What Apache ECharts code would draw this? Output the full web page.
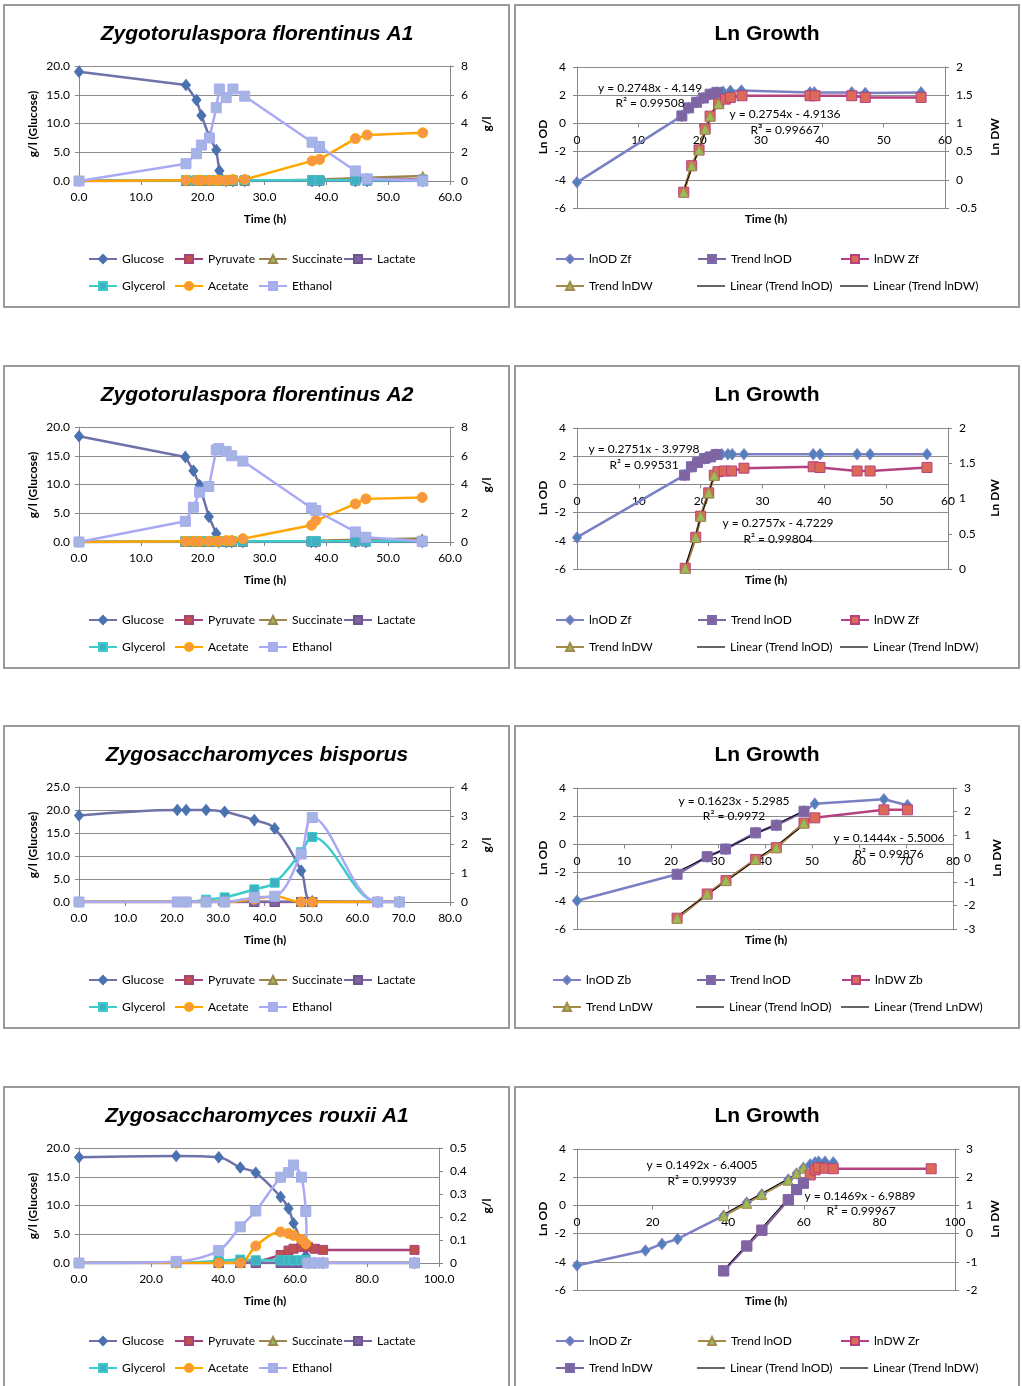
<!DOCTYPE html>
<html><head><meta charset="utf-8">
<script src="https://cdn.jsdelivr.net/npm/echarts@6/dist/echarts.min.js"></script>
<style>
html,body{margin:0;padding:0;background:#fff;width:1022px;height:1386px;overflow:hidden;}
.box{position:absolute;outline:2px solid #9a9a9a;outline-offset:-2px;}
</style></head><body>
<div id="p1" class="box" style="left:3px;top:4px;width:507px;height:304px"></div>
<div id="p2" class="box" style="left:514px;top:4px;width:506px;height:304px"></div>
<div id="p3" class="box" style="left:3px;top:365px;width:507px;height:304px"></div>
<div id="p4" class="box" style="left:514px;top:365px;width:506px;height:304px"></div>
<div id="p5" class="box" style="left:3px;top:725px;width:507px;height:304px"></div>
<div id="p6" class="box" style="left:514px;top:725px;width:506px;height:304px"></div>
<div id="p7" class="box" style="left:3px;top:1086px;width:507px;height:304px"></div>
<div id="p8" class="box" style="left:514px;top:1086px;width:506px;height:304px"></div>
<script>
// ---------- DATA: metabolite panels (time in h; glucose g/l left axis, others g/l right axis) ----------
const a1Time      = [0, 17.3, 19.0, 19.8, 21.1, 22.2, 22.7, 23.8, 24.9, 26.8, 37.7, 38.9, 44.7, 46.6, 55.6];
const a1Glucose   = [19.0, 16.7, 14.1, 11.4, 7.6, 5.4, 1.8, 0, 0, 0, 0, 0, 0, 0, 0];
const a1Pyruvate  = [0, 0.02, 0.02, 0.02, 0.02, 0.02, 0.02, 0.02, 0.02, 0.02, 0.05, 0.05, 0.08, 0.08, 0.1];
const a1Succinate = [0, 0, 0, 0, 0, 0, 0, 0, 0, 0, 0.08, 0.1, 0.2, 0.22, 0.35];
const a1Lactate   = [0, 0.03, 0.03, 0.03, 0.03, 0.03, 0.03, 0.03, 0.03, 0.03, 0.03, 0.03, 0.03, 0.03, 0.03];
const a1Glycerol  = [0, 0.05, 0.05, 0.05, 0.05, 0.05, 0.05, 0.05, 0.05, 0.05, 0.05, 0.05, 0.05, 0.05, 0.05];
const a1Acetate   = [0, 0.05, 0.05, 0.05, 0.05, 0.05, 0.05, 0.05, 0.1, 0.1, 1.4, 1.5, 2.95, 3.2, 3.35];
const a1Ethanol   = [0, 1.2, 1.9, 2.5, 3.0, 5.1, 6.4, 5.8, 6.4, 5.9, 2.7, 2.4, 0.7, 0.15, 0];

const a2Time      = [0, 17.2, 18.5, 19.5, 21.0, 22.2, 22.6, 23.8, 24.7, 26.5, 37.6, 38.3, 44.7, 46.4, 55.5];
const a2Glucose   = [18.4, 14.8, 12.4, 9.9, 4.4, 1.5, 0, 0, 0, 0, 0, 0, 0, 0, 0];
const a2Pyruvate  = [0, 0.02, 0.02, 0.02, 0.02, 0.02, 0.02, 0.02, 0.02, 0.02, 0.05, 0.05, 0.06, 0.06, 0.08];
const a2Succinate = [0, 0, 0, 0, 0, 0, 0, 0, 0, 0, 0.06, 0.08, 0.15, 0.18, 0.25];
const a2Lactate   = [0, 0.03, 0.03, 0.03, 0.03, 0.03, 0.03, 0.03, 0.03, 0.03, 0.03, 0.03, 0.03, 0.03, 0.03];
const a2Glycerol  = [0, 0.05, 0.05, 0.05, 0.05, 0.05, 0.05, 0.05, 0.05, 0.05, 0.05, 0.05, 0.05, 0.05, 0.05];
const a2Acetate   = [0, 0.05, 0.05, 0.05, 0.05, 0.05, 0.05, 0.1, 0.1, 0.23, 1.16, 1.49, 2.65, 3.0, 3.1];
const a2Ethanol   = [0, 1.44, 2.42, 3.47, 3.86, 6.4, 6.5, 6.3, 6.0, 5.63, 2.37, 2.19, 0.7, 0.33, 0.05];

const bTime       = [0, 21.2, 23.1, 27.4, 31.4, 37.8, 42.2, 47.9, 50.3, 64.4, 69.1];
const bGlucose    = [18.8, 20.0, 20.0, 20.0, 19.6, 17.8, 16.0, 6.8, 0.15, 0, 0];
const bPyruvate   = [0, 0, 0, 0, 0, 0, 0, 0, 0, 0, 0];
const bSuccinate  = [0, 0, 0, 0, 0, 0, 0, 0, 0, 0, 0];
const bLactate    = [0, 0, 0, 0, 0, 0, 0, 0, 0, 0, 0];
const bGlycerol   = [0, 0, 0, 0.08, 0.16, 0.44, 0.67, 1.73, 2.26, 0, 0];
const bAcetate    = [0, 0, 0, 0, 0, 0.1, 0.2, 0, 0, 0, 0];
const bEthanol    = [0, 0, 0, 0, 0, 0.16, 0.2, 1.67, 2.94, 0, 0];

const rTime       = [0, 27.0, 38.8, 44.8, 49.1, 56.0, 58.2, 59.6, 61.8, 63.0, 63.6, 65.5, 67.8, 93.2];
const rGlucose    = [18.4, 18.6, 18.4, 16.6, 15.7, 11.5, 9.5, 6.9, 3.8, 1.2, 0, 0, 0, 0];
const rPyruvate   = [0, 0, 0, 0, 0.005, 0.035, 0.054, 0.062, 0.069, 0.074, 0.069, 0.062, 0.057, 0.057];
const rSuccinate  = [0, 0, 0, 0, 0, 0, 0, 0, 0, 0, 0, 0, 0, 0];
const rLactate    = [0, 0, 0, 0, 0, 0, 0, 0, 0, 0, 0, 0, 0, 0];
const rGlycerol   = [0, 0, 0.01, 0.015, 0.012, 0.012, 0.012, 0.012, 0.012, 0.012, 0, 0, 0, 0];
const rAcetate    = [0, 0, 0, 0, 0.074, 0.135, 0.128, 0.12, 0.103, 0.084, 0, 0, 0, 0];
const rEthanol    = [0, 0.007, 0.054, 0.157, 0.226, 0.373, 0.393, 0.426, 0.373, 0.224, 0, 0, 0, 0];

// ---------- DATA: Ln growth panels ([time, value]) ----------
const g1OD      = [[0,-4.18],[17.1,0.53],[18.2,1.1],[19.5,1.5],[20.6,1.8],[21.7,2.07],[22.8,2.2],[23.8,2.25],[25.0,2.3],[26.8,2.33],[38.0,2.2],[38.7,2.2],[44.8,2.2],[47.0,2.15],[56.1,2.2]];
const g1TrendOD = [[17.1,0.53],[18.2,1.1],[19.5,1.5],[20.6,1.8],[21.7,2.07],[22.8,2.2]];
const g1DW      = [[17.4,-0.22],[18.7,0.25],[19.9,0.53],[20.9,0.9],[21.7,1.13],[23.1,1.35],[24.2,1.43],[25.0,1.46],[26.9,1.49],[38.0,1.49],[38.8,1.49],[44.8,1.49],[47.0,1.46],[56.1,1.46]];
const g1TrendDW = [[17.4,-0.22],[18.7,0.25],[19.9,0.53],[20.9,0.9],[21.7,1.13],[23.1,1.35]];
const g1LinOD   = [[17.1,0.55],[22.8,2.2]];
const g1LinDW   = [[17.4,-0.18],[22.8,1.39]];

const g2OD      = [[0,-3.76],[17.4,0.66],[18.5,1.25],[19.5,1.55],[20.6,1.84],[21.6,1.95],[22.5,2.12],[23.4,2.14],[24.4,2.14],[25.1,2.14],[27.0,2.14],[38.2,2.14],[39.3,2.14],[45.3,2.14],[47.4,2.14],[56.6,2.14]];
const g2TrendOD = [[17.4,0.66],[18.5,1.25],[19.5,1.55],[20.6,1.84],[21.6,1.95],[22.5,2.12]];
const g2DW      = [[17.5,0.01],[19.2,0.45],[20.0,0.75],[21.3,1.08],[22.2,1.33],[22.8,1.38],[23.8,1.39],[25.0,1.39],[27.0,1.43],[38.2,1.45],[39.3,1.44],[45.3,1.39],[47.4,1.39],[56.6,1.44]];
const g2TrendDW = [[17.5,0.01],[19.2,0.45],[20.0,0.75],[21.3,1.08],[22.2,1.33]];
const g2LinOD   = [[17.2,0.78],[22.5,2.19]];
const g2LinDW   = [[17.5,0.03],[22.3,1.36]];

const g3OD      = [[0,-4.0],[21.3,-2.12],[27.7,-0.87],[31.6,-0.33],[38.0,0.82],[42.4,1.36],[48.3,2.35],[50.6,2.89],[65.3,3.2],[70.3,2.78]];
const g3TrendOD = [[21.3,-2.12],[27.7,-0.87],[31.6,-0.33],[38.0,0.82],[42.4,1.36],[48.3,2.35]];
const g3DW      = [[21.3,-2.54],[27.7,-1.51],[31.7,-0.94],[38.0,-0.04],[42.4,0.46],[48.3,1.51],[50.6,1.73],[65.3,2.07],[70.3,2.07]];
const g3TrendDW = [[21.3,-2.54],[27.7,-1.51],[31.7,-0.94],[38.0,-0.04],[42.4,0.46],[48.3,1.51]];
const g3LinOD   = [[21.3,-1.93],[48.6,2.42]];
const g3LinDW   = [[21.3,-2.46],[48.6,1.45]];

const g4OD      = [[0,-4.26],[18.1,-3.2],[22.5,-2.73],[26.6,-2.38],[38.8,-0.73],[44.9,0.2],[48.9,0.78],[55.9,1.84],[58.1,2.26],[59.9,2.66],[61.7,2.9],[63.0,3.05],[63.9,3.1],[65.6,3.1],[67.8,3.05]];
const g4TrendOD = [[38.8,-0.73],[44.9,0.15],[48.9,0.78],[55.9,1.79],[58.1,2.26],[59.9,2.66]];
const g4DW      = [[38.8,-1.32],[44.9,-0.44],[48.9,0.12],[55.9,1.2],[58.1,1.56],[59.9,1.79],[61.7,2.08],[63.0,2.26],[63.9,2.34],[65.6,2.32],[67.8,2.3],[93.7,2.3]];
const g4TrendDW = [[38.8,-1.32],[44.9,-0.44],[48.9,0.12],[55.9,1.2],[58.1,1.56],[59.9,1.79]];
const g4LinOD   = [[38.8,-0.63],[60.2,2.52]];
const g4LinDW   = [[38.8,-1.3],[59.9,1.85]];

const metaboliteNames = ['Glucose','Pyruvate','Succinate','Lactate','Glycerol','Acetate','Ethanol'];

// ---------- STYLES ----------
const FONT = 'Lato, "Liberation Sans", sans-serif';
const TFONT = '"Liberation Sans", Arial, sans-serif';
const AX = '#868686', GRID = '#8c8c8c';
const GLU = {symbol:'diamond', size:[9,11], line:'#6F71A9', mk:'#4A72B0', border:'#4A72B0'};
const PYR = {symbol:'rect', size:9, line:'#A8427A', mk:'#C0504D', border:'#A8427A'};
const SUC = {symbol:'triangle', size:9, line:'#9C8650', mk:'#9BBB59', border:'#9C8650'};
const LAC = {symbol:'rect', size:9, line:'#7B66A6', mk:'#8064A2', border:'#6b5590'};
const GLY = {symbol:'rect', size:9, line:'#3CCCCC', mk:'#3FB0C2', border:'#3CCCCC'};
const ACE = {symbol:'circle', size:10, line:'#FFA500', mk:'#F79646', border:'#FFA500'};
const ETH = {symbol:'rect', size:10, line:'#A9A9F5', mk:'#A4B5E3', border:'#A9A9F5'};
const OD  = {symbol:'diamond', size:[9,11], line:'#7A80C4', mk:'#4F81BD', border:'#7A80C4'};
const PSQ = {symbol:'rect', size:10, line:'#8064A2', mk:'#8064A2', border:'#7A6AAE'};
const DW  = {symbol:'rect', size:10, line:'#B5427F', mk:'#DD6A58', border:'#B5427F'};
const TRI = {symbol:'triangle', size:10, line:'#A38A4B', mk:'#9BBB59', border:'#A38A4B'};
const LIN = {symbol:'none', size:0, line:'#000', mk:'#000', border:'#000', width:1};

function pairs(t, v) { return t.map((x, i) => [x, v[i]]); }

function mkSeries(name, data, yIdx, st, smooth) {
  return {
    name, type:'line', data, yAxisIndex:yIdx,
    symbol: st.symbol, symbolSize: st.size, showSymbol: st.symbol !== 'none',
    smooth: smooth || false,
    lineStyle:{color:st.line, width: st.width || 2.5},
    itemStyle:{color:st.mk, borderColor:st.border, borderWidth: st.symbol === 'none' ? 0 : 1},
    emphasis:{disabled:true}, silent:true
  };
}

function txt(x, y, text, opt) {
  opt = opt || {};
  return {type:'text', x, y, rotation: opt.rot || 0, z: 100,
    style:{text, fill:'#000', fontFamily: opt.font || FONT, fontSize: opt.size || 12,
      fontWeight: opt.bold ? 'bold' : 'normal', fontStyle: opt.italic ? 'italic' : 'normal',
      textAlign:'center', textVerticalAlign:'middle', align:'center', verticalAlign:'middle'}};
}

function legends(names, pos) {
  return names.map((n, i) => {
    const isLin = n.indexOf('Linear') === 0;
    const l = {
      data:[n], left:pos[i][0] - 2, top:pos[i][1], orient:'horizontal',
      itemWidth:28, itemHeight: isLin ? 1.2 : 10, itemGap:0, selectedMode:false, padding:0,
      textStyle:{fontFamily:FONT, fontSize:12, color:'#000'}
    };
    if (isLin) { l.icon = 'rect'; l.itemStyle = {color:'#000'}; l.top = pos[i][1]; }
    return l;
  });
}

function axisCommon() {
  return {
    axisLine:{show:true, onZero:false, lineStyle:{color:AX, width:1}},
    axisTick:{show:true, length:4, lineStyle:{color:AX}},
    splitLine:{show:false}
  };
}

function leftPanel(id, cfg) {
  const chart = echarts.init(document.getElementById(id));
  const styles = [GLU, PYR, SUC, LAC, GLY, ACE, ETH];
  const series = metaboliteNames.map((n, i) =>
    mkSeries(n, pairs(cfg.time, cfg.vals[i]), i === 0 ? 0 : 1, styles[i], cfg.smooth));
  const legPos = [[87,249],[173,249],[257,249],[342,249],[87,276],[173,276],[257,276]];
  const yAx0 = Object.assign(axisCommon(), {
    type:'value', min:0, max:cfg.yMax, interval:cfg.yInt, position:'left',
    splitLine:{show:true, lineStyle:{color:GRID, width:1}},
    axisLabel:{formatter:v => v.toFixed(1), color:'#000', fontSize:12, margin:9, fontFamily:FONT}
  });
  const yAx1 = Object.assign(axisCommon(), {
    type:'value', min:0, max:cfg.y2Max, interval:cfg.y2Int, position:'right',
    axisLabel:{color:'#000', fontSize:12, margin:11, fontFamily:FONT}
  });
  const xAx = Object.assign(axisCommon(), {
    type:'value', min:0, max:cfg.xMax, interval:cfg.xInt,
    axisLabel:{formatter:v => v.toFixed(1), color:'#000', fontSize:12, margin:10, fontFamily:FONT}
  });
  chart.setOption({
    animation:false,
    textStyle:{fontFamily:FONT},
    grid:{left:76, top:62, width:cfg.w, height:115, containLabel:false, outerBoundsMode:'none'},
    xAxis:xAx, yAxis:[yAx0, yAx1],
    legend: legends(metaboliteNames, legPos),
    series,
    graphic: [
      txt(254, 30, cfg.title, {size:21, bold:true, italic:true, font:TFONT}),
      txt(30, 120, 'g/l (Glucose)', {bold:true, rot:Math.PI/2}),
      txt(484, 120, 'g/l', {bold:true, rot:Math.PI/2}),
      txt(262, 215, 'Time (h)', {bold:true})
    ]
  });
}

function rightPanel(id, cfg) {
  const chart = echarts.init(document.getElementById(id));
  const series = cfg.series.map(s => mkSeries(s[0], s[1], s[2], s[3], false));
  const H = 141;
  const yAx0 = Object.assign(axisCommon(), {
    type:'value', min:-6, max:4, interval:2, position:'left',
    splitLine:{show:true, lineStyle:{color:GRID, width:1}},
    axisLabel:{color:'#000', fontSize:12, margin:11, fontFamily:FONT}
  });
  const yAx1 = Object.assign(axisCommon(), {
    type:'value', min:cfg.y2Min, max:cfg.y2Max, interval:cfg.y2Int, position:'right',
    axisLabel:{color:'#000', fontSize:12, margin:11, fontFamily:FONT}
  });
  // x axis drawn across the Ln OD = 0 line (0 sits 6/10 of the way up from -6 to 4)
  const xAx = Object.assign(axisCommon(), {
    type:'value', min:0, max:cfg.xMax, interval:cfg.xInt, position:'bottom',
    offset: -H * 6 / 10,
    axisLabel:{color:'#000', fontSize:12, margin:11, fontFamily:FONT}
  });
  const graphic = [
    txt(253, 30, 'Ln Growth', {size:21, bold:true, font:TFONT}),
    txt(29, 133, 'Ln OD', {bold:true, rot:Math.PI/2}),
    txt(cfg.dwX, 133, 'Ln DW', {bold:true, rot:Math.PI/2}),
    txt(252, 215, 'Time (h)', {bold:true})
  ].concat(cfg.notes.map(n => txt(n[0], n[1], n[2])));
  chart.setOption({
    animation:false,
    textStyle:{fontFamily:FONT},
    grid:{left:63, top:63, width:cfg.w, height:H, containLabel:false, outerBoundsMode:'none'},
    xAxis:xAx, yAxis:[yAx0, yAx1],
    legend: legends(cfg.series.map(s => s[0]), cfg.leg),
    series, graphic
  });
}

leftPanel('p1', {title:'Zygotorulaspora florentinus A1', time:a1Time,
  vals:[a1Glucose,a1Pyruvate,a1Succinate,a1Lactate,a1Glycerol,a1Acetate,a1Ethanol],
  xMax:60, xInt:10, yMax:20, yInt:5, y2Max:8, y2Int:2, w:371});
leftPanel('p3', {title:'Zygotorulaspora florentinus A2', time:a2Time,
  vals:[a2Glucose,a2Pyruvate,a2Succinate,a2Lactate,a2Glycerol,a2Acetate,a2Ethanol],
  xMax:60, xInt:10, yMax:20, yInt:5, y2Max:8, y2Int:2, w:371});
leftPanel('p5', {title:'Zygosaccharomyces bisporus', time:bTime,
  vals:[bGlucose,bPyruvate,bSuccinate,bLactate,bGlycerol,bAcetate,bEthanol],
  xMax:80, xInt:10, yMax:25, yInt:5, y2Max:4, y2Int:1, w:371, smooth:0.35});
leftPanel('p7', {title:'Zygosaccharomyces rouxii A1', time:rTime,
  vals:[rGlucose,rPyruvate,rSuccinate,rLactate,rGlycerol,rAcetate,rEthanol],
  xMax:100, xInt:20, yMax:20, yInt:5, y2Max:0.5, y2Int:0.1, w:360, smooth:0.35});

const legStd = [[43,249],[185,249],[328,249],[43,276],[185,276],[328,276]];
rightPanel('p2', {xMax:60, xInt:10, y2Min:-0.5, y2Max:2, y2Int:0.5, w:368, dwX:481, leg:legStd,
  series:[['lnOD Zf',g1OD,0,OD],['Trend lnOD',g1TrendOD,0,PSQ],['lnDW Zf',g1DW,1,DW],['Trend lnDW',g1TrendDW,1,TRI],
          ['Linear (Trend lnOD)',g1LinOD,0,LIN],['Linear (Trend lnDW)',g1LinDW,1,LIN]],
  notes:[[136,84,'y = 0.2748x - 4.149'],[136,99,'R² = 0.99508'],[271,110,'y = 0.2754x - 4.9136'],[271,126,'R² = 0.99667']]});
rightPanel('p4', {xMax:60, xInt:10, y2Min:0, y2Max:2, y2Int:0.5, w:371, dwX:481, leg:legStd,
  series:[['lnOD Zf',g2OD,0,OD],['Trend lnOD',g2TrendOD,0,PSQ],['lnDW Zf',g2DW,1,DW],['Trend lnDW',g2TrendDW,1,TRI],
          ['Linear (Trend lnOD)',g2LinOD,0,LIN],['Linear (Trend lnDW)',g2LinDW,1,LIN]],
  notes:[[130,84,'y = 0.2751x - 3.9798'],[130,100,'R² = 0.99531'],[264,158,'y = 0.2757x - 4.7229'],[264,174,'R² = 0.99804']]});
rightPanel('p6', {xMax:80, xInt:10, y2Min:-3, y2Max:3, y2Int:1, w:376, dwX:483,
  leg:[[40,249],[184,249],[329,249],[40,276],[184,276],[329,276]],
  series:[['lnOD Zb',g3OD,0,OD],['Trend lnOD',g3TrendOD,0,PSQ],['lnDW Zb',g3DW,1,DW],['Trend LnDW',g3TrendDW,1,TRI],
          ['Linear (Trend lnOD)',g3LinOD,0,LIN],['Linear (Trend LnDW)',g3LinDW,1,LIN]],
  notes:[[220,76,'y = 0.1623x - 5.2985'],[220,91,'R² = 0.9972'],[375,113,'y = 0.1444x - 5.5006'],[375,129,'R² = 0.99876']]});
rightPanel('p8', {xMax:100, xInt:20, y2Min:-2, y2Max:3, y2Int:1, w:378, dwX:481, leg:legStd,
  series:[['lnOD Zr',g4OD,0,OD],['Trend lnOD',g4TrendOD,0,TRI],['lnDW Zr',g4DW,1,DW],['Trend lnDW',g4TrendDW,1,PSQ],
          ['Linear (Trend lnOD)',g4LinOD,0,LIN],['Linear (Trend lnDW)',g4LinDW,1,LIN]],
  notes:[[188,79,'y = 0.1492x - 6.4005'],[188,95,'R² = 0.99939'],[346,110,'y = 0.1469x - 6.9889'],[347,125,'R² = 0.99967']]});
</script>
</body></html>
